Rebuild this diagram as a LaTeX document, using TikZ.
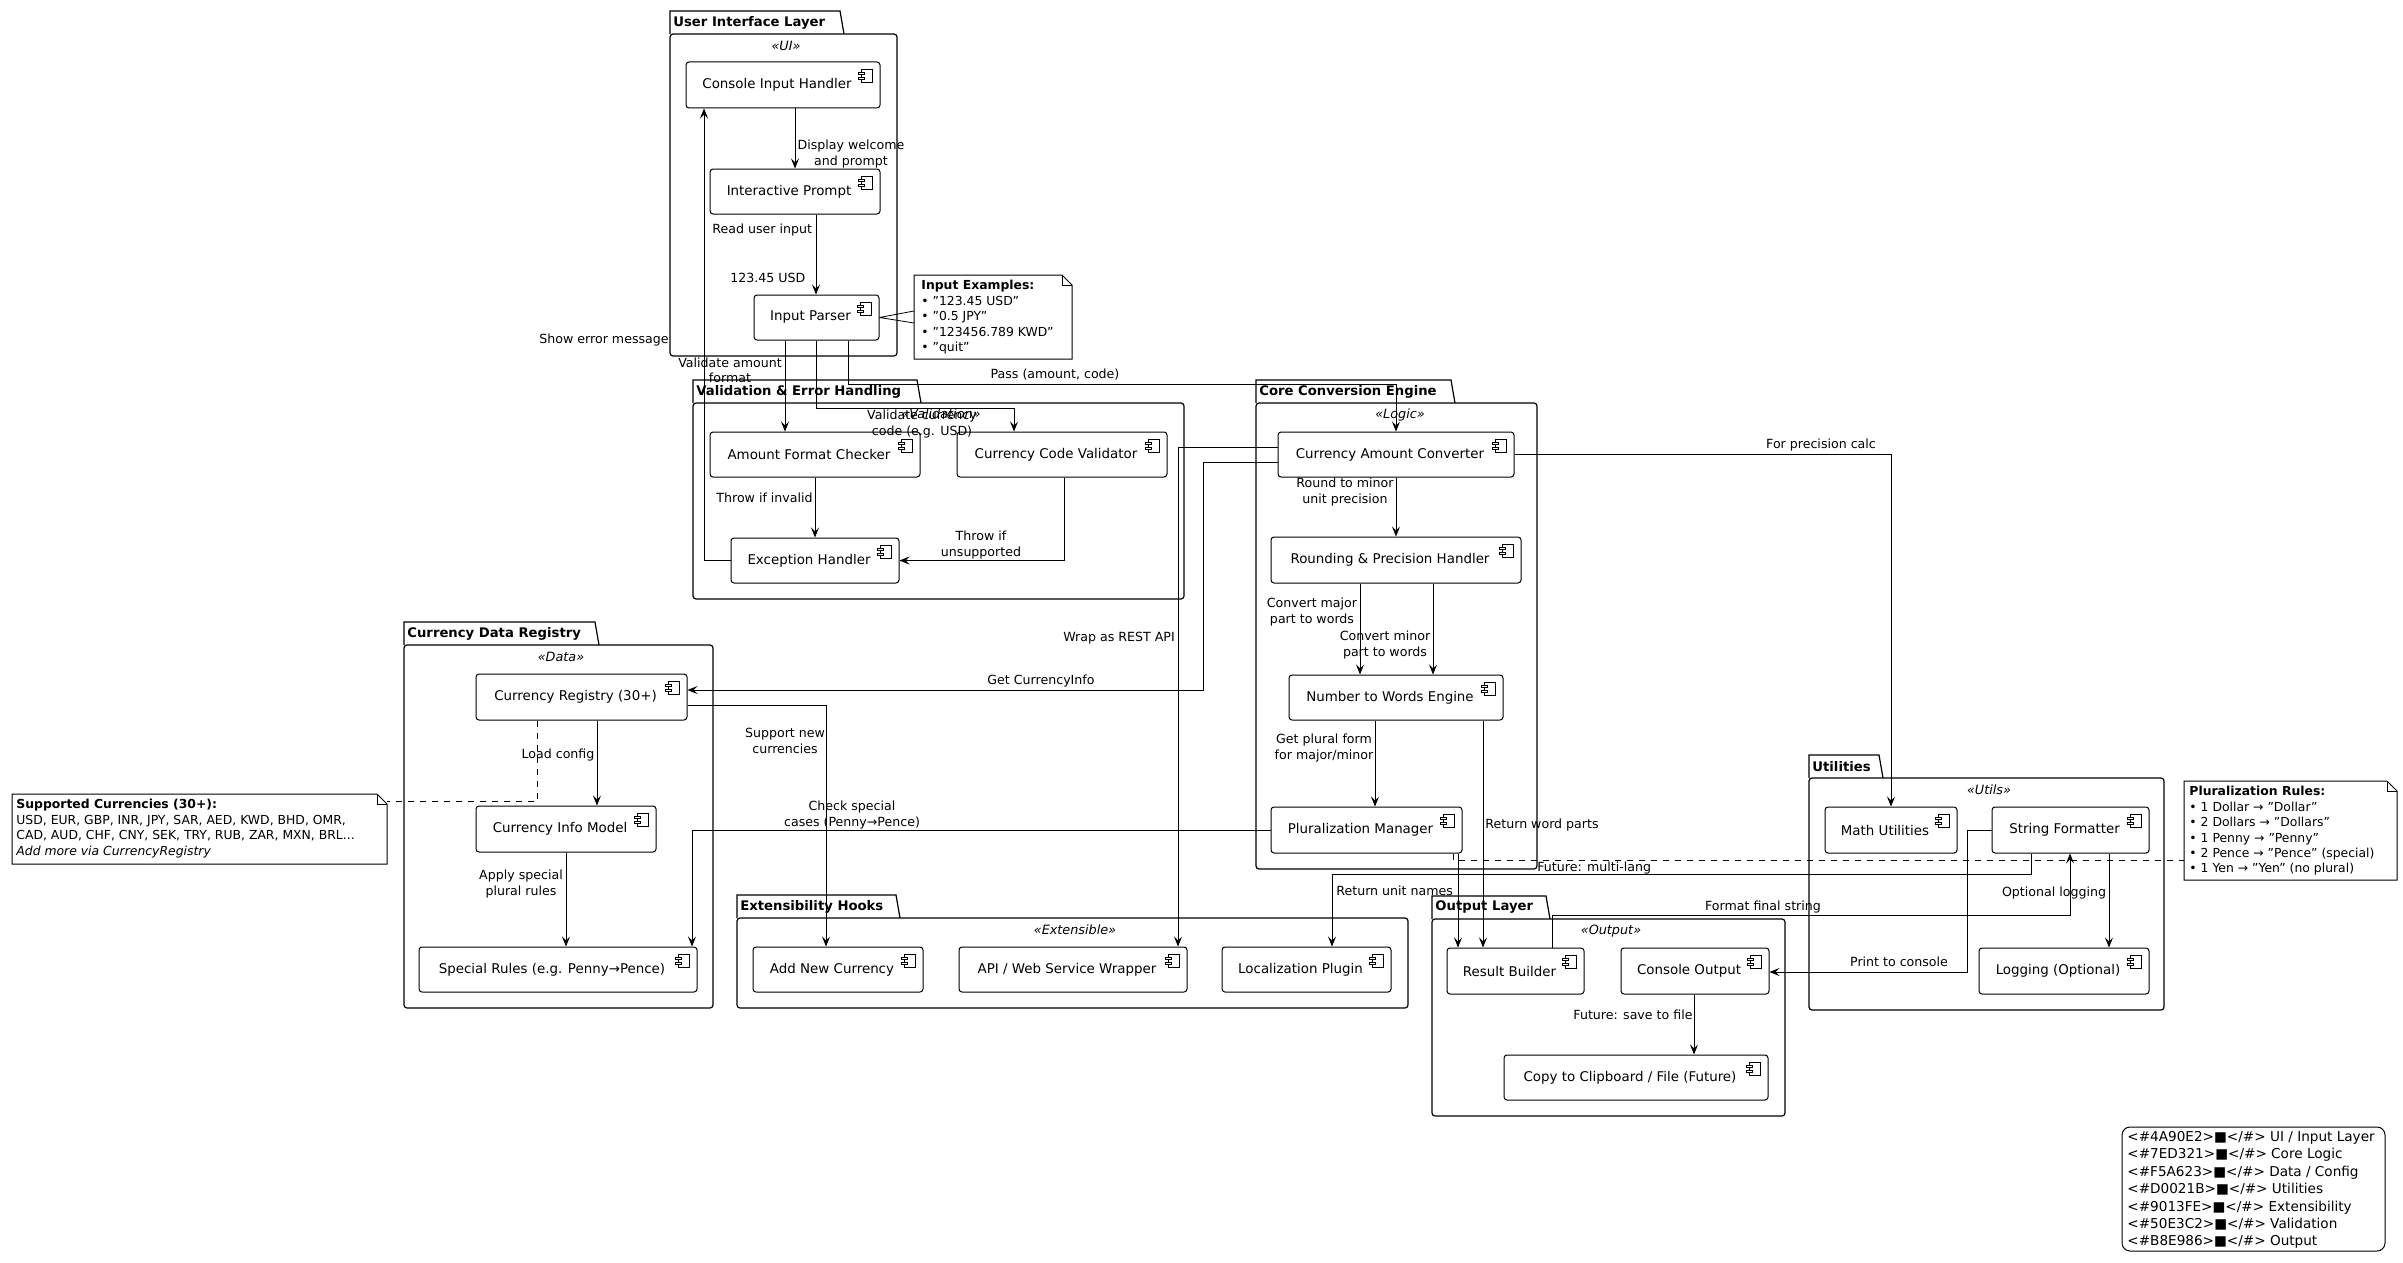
\documentclass[tikz,border=0pt]{standalone}
\usepackage{fontspec}
\setmainfont{DejaVu Sans}
\usetikzlibrary{arrows.meta}
\tikzset{
  comp/.style={draw,rounded corners=1.5pt,line width=0.5pt,inner sep=0pt,font=\fontsize{6.7}{8}\selectfont},
  arr/.style={-{Stealth[length=5pt,width=4pt,inset=2pt]},line width=0.4pt},
  lnk/.style={line width=0.4pt},
  lbl/.style={font=\fontsize{6.3}{7.6}\selectfont,align=center,inner sep=0pt},
  pkbody/.style={draw,line width=0.6pt,rounded corners=1.5pt},
  pktitle/.style={font=\bfseries\fontsize{6.6}{8}\selectfont,anchor=west,inner sep=0pt},
  stereo/.style={font=\itshape\fontsize{6.4}{7.5}\selectfont,inner sep=0pt},
  notetxt/.style={font=\fontsize{6.2}{7.7}\selectfont,align=left,anchor=north west,inner sep=0pt},
}
\newcommand\comp[6]{%
  \pgfmathsetmacro\cw{(#4-#2)*0.5}\pgfmathsetmacro\ch{(#5-#3)*0.5}%
  \node[comp,minimum width=\cw pt,minimum height=\ch pt] (#1) at ({(#2+#4)/2},{(#3+#5)/2}) {\hspace*{-6pt}\raisebox{-4pt}{#6}};
  \draw[line width=0.4pt] (#4-19,#3+7) rectangle (#4-8,#3+20);
  \draw[line width=0.4pt,fill=white] (#4-22,#3+10) rectangle (#4-16,#3+12.5);
  \draw[line width=0.4pt,fill=white] (#4-22,#3+15) rectangle (#4-16,#3+17.5);
}
\newcommand\pkg[8]{%
  \draw[pkbody] (#1,#3) rectangle (#4,#5);
  \draw[line width=0.6pt] (#1,#3) -- (#1,#2) -- (#6-4,#2) -- (#6,#3);
  \node[pktitle] at (#1+3,{(#2+#3)/2}) {#7};
  #8
}
\newcommand\notebox[4]{%
  \draw[line width=0.5pt,fill=white] (#1,#2) -- (#3-10,#2) -- (#3,#2+10) -- (#3,#4) -- (#1,#4) -- cycle;
  \draw[line width=0.5pt] (#3-10,#2) -- (#3-10,#2+10) -- (#3,#2+10);
}
\begin{document}
\begin{tikzpicture}[x=0.5pt,y=-0.5pt]
\useasboundingbox (0,0) rectangle (2403,1263);
\fill[white] (0,0) rectangle (2403,1263);
% packages
\pkg{670}{11}{34}{897}{356}{844}{User Interface Layer}{\node[stereo] at (786,46) {«UI»};}
\pkg{693}{380}{403}{1184}{599}{921}{Validation \& Error Handling}{\node[stereo] at (941,414) {«Validation»};}
\pkg{1256}{380}{403}{1537}{869}{1455}{Core Conversion Engine}{\node[stereo] at (1400,415) {«Logic»};}
\pkg{404}{622}{645}{713}{1008}{599}{Currency Data Registry}{\node[stereo] at (561,657) {«Data»};}
\pkg{737}{895}{918}{1408}{1008}{900}{Extensibility Hooks}{\node[stereo] at (1075,930) {«Extensible»};}
\pkg{1432}{896}{919}{1785}{1116}{1550}{Output Layer}{\node[stereo] at (1611,931) {«Output»};}
\pkg{1809}{755}{778}{2164}{1010}{1883}{Utilities}{\node[stereo] at (1989,790) {«Utils»};}
% components
\comp{cih}{686}{62}{880}{108}{Console Input Handler}
\comp{ip}{710}{169}{880}{214}{Interactive Prompt}
\comp{parser}{754}{295}{879}{340}{Input Parser}
\comp{afc}{710}{432}{920}{477}{Amount Format Checker}
\comp{ccv}{957}{432}{1167}{477}{Currency Code Validator}
\comp{eh}{731}{538}{899}{583}{Exception Handler}
\comp{cac}{1278}{432}{1514}{477}{Currency Amount Converter}
\comp{rph}{1271}{537}{1521}{583}{Rounding \& Precision Handler}
\comp{ntw}{1289}{675}{1503}{720}{Number to Words Engine}
\comp{pm}{1271}{807}{1462}{853}{Pluralization Manager}
\comp{reg}{476}{674}{687}{720}{Currency Registry (30+)}
\comp{cim}{476}{806}{656}{852}{Currency Info Model}
\comp{sr}{419}{947}{697}{992}{Special Rules (e.g. Penny→Pence)}
\comp{anc}{753}{947}{923}{992}{Add New Currency}
\comp{api}{959}{947}{1187}{992}{API / Web Service Wrapper}
\comp{loc}{1222}{947}{1391}{992}{Localization Plugin}
\comp{rb}{1447}{948}{1584}{994}{Result Builder}
\comp{co}{1621}{948}{1769}{994}{Console Output}
\comp{clip}{1504}{1055}{1768}{1100}{Copy to Clipboard / File (Future)}
\comp{math}{1825}{807}{1957}{853}{Math Utilities}
\comp{sf}{1992}{807}{2149}{853}{String Formatter}
\comp{log}{1979}{948}{2149}{994}{Logging (Optional)}
% notes
\notebox{914}{275}{1072}{359}
\node[notetxt] at (921,280) {\textbf{Input Examples:}\\• "123.45 USD"\\• "0.5 JPY"\\• "123456.789 KWD"\\• "quit"};
\coordinate (n1c) at (914,317);
\notebox{12}{794}{387}{864}
\node[notetxt] at (16,799) {\textbf{Supported Currencies (30+):}\\USD, EUR, GBP, INR, JPY, SAR, AED, KWD, BHD, OMR,\\CAD, AUD, CHF, CNY, SEK, TRY, RUB, ZAR, MXN, BRL...\\\textit{Add more via CurrencyRegistry}};
\coordinate (n2c) at (387,801);
\notebox{2184}{781}{2397}{880}
\node[notetxt] at (2189,786) {\textbf{Pluralization Rules:}\\• 1 Dollar → "Dollar"\\• 2 Dollars → "Dollars"\\• 1 Penny → "Penny"\\• 2 Pence → "Pence" (special)\\• 1 Yen → "Yen" (no plural)};
\coordinate (n3c) at (2184,860);
% note links
\draw[lnk] (parser.east) -- (914,311) (parser.east) -- (914,323);
\draw[lnk,dashed] (537,0 |- reg.south) |- (n2c);
\draw[lnk,dashed] (1453,0 |- pm.south) |- (n3c);
% edges
\draw[arr] (795,0 |- cih.south) -- (795,0 |- ip.north);
\draw[arr] (816,0 |- ip.south) -- (816,0 |- parser.north);
\draw[arr] (785,0 |- parser.south) -- (785,0 |- afc.north);
\draw[arr] (816,0 |- parser.south) -- (816,408) -| (1014,0 |- ccv.north);
\draw[arr] (848,0 |- parser.south) -- (848,384) -| (1396,0 |- cac.north);
\draw[arr] (815,0 |- afc.south) -- (815,0 |- eh.north);
\draw[arr] (1064,0 |- ccv.south) |- (eh.east);
\draw[arr] (eh.west) -| (704,0 |- cih.south);
\draw[arr] (1396,0 |- cac.south) -- (1396,0 |- rph.north);
\draw[arr] (1360,0 |- rph.south) -- (1360,0 |- ntw.north);
\draw[arr] (1433,0 |- rph.south) -- (1433,0 |- ntw.north);
\draw[arr] (1375,0 |- ntw.south) -- (1375,0 |- pm.north);
\draw[arr] (1483,0 |- ntw.south) -- (1483,0 |- rb.north);
\draw[arr] (1458,0 |- pm.south) -- (1458,0 |- rb.north);
\draw[arr] (cac.east) -| (1891,0 |- math.north);
\draw[arr] (cac.west |- 0,447) -- (1178,447) -- (1178,0 |- api.north);
\draw[arr] (cac.west |- 0,462) -- (1203,462) -- (1203,690) -- (reg.east |- 0,690);
\draw[arr] (597,0 |- reg.south) -- (597,0 |- cim.north);
\draw[arr] (566,0 |- cim.south) -- (566,0 |- sr.north);
\draw[arr] (reg.east |- 0,705) -| (826,0 |- anc.north);
\draw[arr] (pm.west) -| (692,0 |- sr.north);
\draw[arr] (2031,0 |- sf.south) -- (2031,874) -- (1332,874) -- (1332,0 |- loc.north);
\draw[arr] (1552,0 |- rb.north) -- (1552,915) -| (2070,0 |- sf.south);
\draw[arr] (2109,0 |- sf.south) -- (2109,0 |- log.north);
\draw[arr] (sf.west) -- (1967,830) -- (1967,972) -- (co.east |- 0,972);
\draw[arr] (1694,0 |- co.south) -- (1694,0 |- clip.north);
% labels
\node[lbl] at (851,154) {Display welcome\\and prompt};
\node[lbl,anchor=west] at (712,230) {Read user input};
\node[lbl,anchor=west] at (730,278) {123.45 USD};
\node[lbl,anchor=east] at (669,340) {Show error message};
\node[lbl] at (730,370) {Validate amount\\format};
\node[lbl] at (1055,375) {Pass (amount, code)};
\node[lbl] at (922,424) {Validate currency\\code (e.g. USD)};
\node[lbl,anchor=west] at (716,498) {Throw if invalid};
\node[lbl] at (981,545) {Throw if\\unsupported};
\node[lbl] at (1345,492) {Round to minor\\unit precision};
\node[lbl] at (1312,612) {Convert major\\part to words};
\node[lbl] at (1385,645) {Convert minor\\part to words};
\node[lbl] at (1324,748) {Get plural form\\for major/minor};
\node[lbl,anchor=west] at (1485,825) {Return word parts};
\node[lbl] at (1821,445) {For precision calc};
\node[lbl] at (1119,638) {Wrap as REST API};
\node[lbl] at (1041,681) {Get CurrencyInfo};
\node[lbl] at (785,741) {Support new\\currencies};
\node[lbl] at (558,755) {Load config};
\node[lbl] at (852,815) {Check special\\cases (Penny→Pence)};
\node[lbl] at (521,884) {Apply special\\plural rules};
\node[lbl,anchor=west] at (1537,868) {Future: multi-lang};
\node[lbl,anchor=west] at (1336,891) {Return unit names};
\node[lbl] at (1763,907) {Format final string};
\node[lbl] at (2054,893) {Optional logging};
\node[lbl] at (1899,962) {Print to console};
\node[lbl] at (1633,1015) {Future: save to file};
% legend
\draw[line width=0.5pt,rounded corners=4pt] (2122,1127) rectangle (2385,1251);
\node[notetxt,font=\fontsize{6.8}{8.7}\selectfont] (legend) at (2127,1131) {<\#4A90E2>■</\#> UI / Input Layer\\<\#7ED321>■</\#> Core Logic\\<\#F5A623>■</\#> Data / Config\\<\#D0021B>■</\#> Utilities\\<\#9013FE>■</\#> Extensibility\\<\#50E3C2>■</\#> Validation\\<\#B8E986>■</\#> Output};
\end{tikzpicture}
\end{document}
